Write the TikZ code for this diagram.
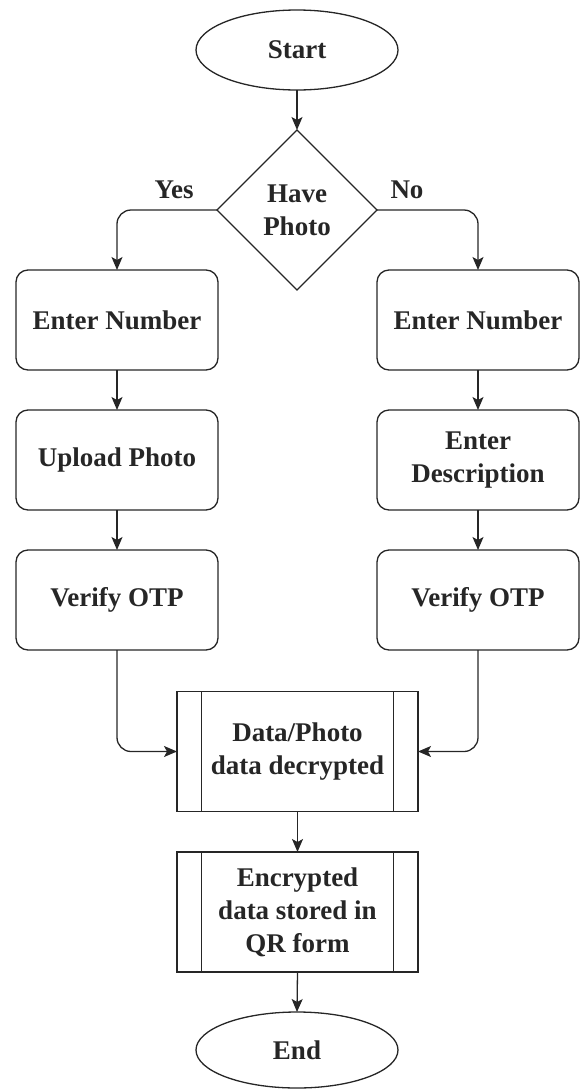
\documentclass[tikz,border=0pt]{standalone}
\usepackage{fontspec}
\setmainfont{Liberation Serif}
\usetikzlibrary{shapes.geometric,arrows.meta}
\begin{document}
\begin{tikzpicture}[x=1pt,y=-1pt,
  base/.style={draw=black!85, line width=1.3pt, font=\bfseries\fontsize{27}{33}\selectfont,
    align=center, inner sep=0pt, outer sep=0pt, text=black!85},
  term/.style={base, ellipse, minimum width=202pt, minimum height=80pt},
  decision/.style={base, diamond, minimum width=160pt, minimum height=160pt},
  stepbox/.style={base, rectangle, rounded corners=12pt, minimum width=202pt, minimum height=100pt},
  proc/.style={base, rectangle, minimum width=241pt, minimum height=120pt},
  arr/.style={draw=black!85, line width=1.3pt, -{Stealth[length=13pt,width=11pt,inset=3pt]}, rounded corners=14pt},
  lbl/.style={font=\bfseries\fontsize{27}{33}\selectfont, text=black!85, inner sep=0pt}
]
\useasboundingbox (0,0) rectangle (581,1090);

\node[term] (start) at (297,50) {Start};
\node[decision] (dec) at (297,210) {Have\\Photo};

\node[stepbox] (l1) at (117,320) {Enter Number};
\node[stepbox] (l2) at (117,460) {Upload Photo};
\node[stepbox] (l3) at (117,600) {Verify OTP};

\node[stepbox] (r1) at (478,320) {Enter Number};
\node[stepbox] (r2) at (478,460) {Enter\\Description};
\node[stepbox] (r3) at (478,600) {Verify OTP};

\node[proc] (p1) at (297.5,751.5) {Data/Photo\\data decrypted};
\node[proc] (p2) at (297.5,912) {Encrypted\\data stored in\\QR form};

\node[term, minimum height=76pt] (end) at (297,1050) {End};

\foreach \p in {p1,p2}{
  \draw[draw=black!85, line width=1.3pt] ([xshift=24.5pt]\p.north west) -- ([xshift=24.5pt]\p.south west);
  \draw[draw=black!85, line width=1.3pt] ([xshift=-24.5pt]\p.north east) -- ([xshift=-24.5pt]\p.south east);
}

\node[lbl] (yes) at (174,190) {Yes};
\node[lbl] (no) at (407,190) {No};

\draw[arr] (start.south) -- (dec.north);
\draw[arr] (dec.west) -| (l1.north);
\draw[arr] (dec.east) -| (r1.north);
\draw[arr] (l1.south) -- (l2.north);
\draw[arr] (l2.south) -- (l3.north);
\draw[arr] (r1.south) -- (r2.north);
\draw[arr] (r2.south) -- (r3.north);
\draw[arr] (l3.south) |- (p1.west);
\draw[arr] (r3.south) |- (p1.east);
\draw[arr] (p1.south) -- (p2.north);
\draw[arr] (p2.south) -- (end.north);
\end{tikzpicture}
\end{document}
